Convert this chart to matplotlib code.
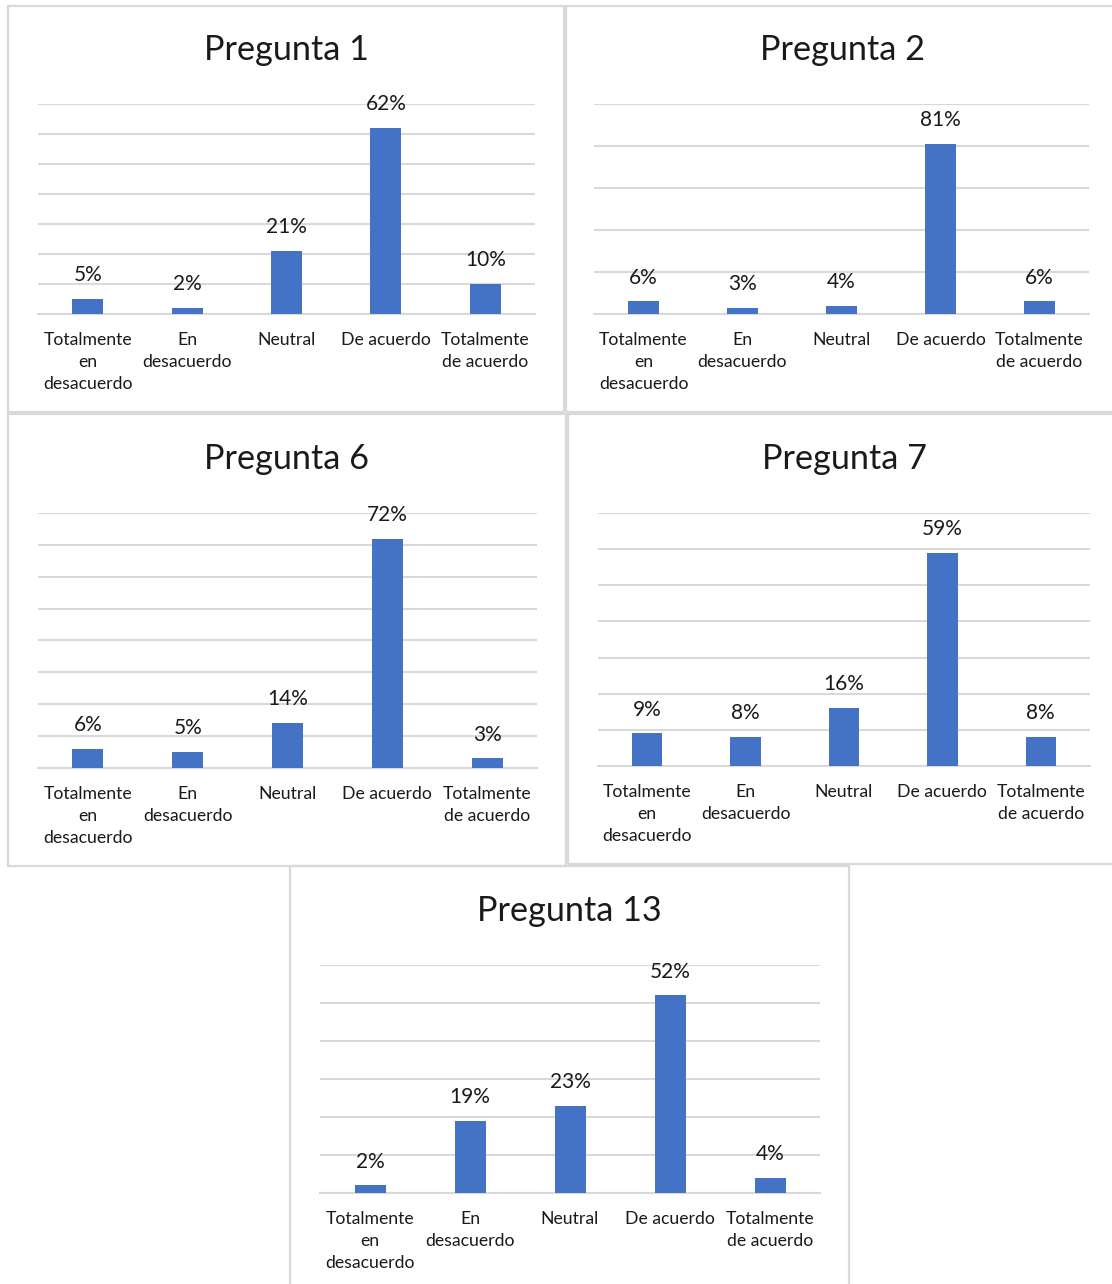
import matplotlib
matplotlib.use("Agg")
import matplotlib.pyplot as plt
from matplotlib.patches import Rectangle
from matplotlib.ticker import MultipleLocator

plt.rcParams['font.family'] = ['Lato', 'DejaVu Sans']

categories = ["Totalmente\nen\ndesacuerdo", "En\ndesacuerdo", "Neutral",
              "De acuerdo", "Totalmente\nde acuerdo"]

titles = ["Pregunta 1", "Pregunta 2", "Pregunta 6", "Pregunta 7", "Pregunta 13"]

pregunta_1 = [0.05, 0.02, 0.21, 0.62, 0.10]
pregunta_2 = [0.06, 0.03, 0.04, 0.81, 0.06]
pregunta_6 = [0.06, 0.05, 0.14, 0.72, 0.03]
pregunta_7 = [0.09, 0.08, 0.16, 0.59, 0.08]
pregunta_13 = [0.02, 0.19, 0.23, 0.52, 0.04]

series = [pregunta_1, pregunta_2, pregunta_6, pregunta_7, pregunta_13]
y_max = [0.7, 1.0, 0.8, 0.7, 0.6]
y_step = [0.1, 0.2, 0.1, 0.1, 0.1]

W, H = 1112, 1284
fig = plt.figure(figsize=(W / 100, H / 100), dpi=100)
fig.patch.set_facecolor("white")

# plot areas in pixels: left, right, top gridline, baseline
plot_px = [(38, 535, 104, 314), (594, 1089, 104, 314), (38, 537, 513, 768),
           (598, 1090, 513, 766), (320, 820, 965, 1193)]
# chart frames in pixels: left, top, right, bottom
frame_px = [(8, 6, 564, 412), (566, 6, 1116, 412), (8, 414, 566, 866),
            (568, 414, 1116, 864), (290, 866, 849, 1290)]
title_px = [(286, 50), (842, 50), (287, 459), (844, 459), (569, 911)]

BAR = "#4472C4"
GRID = "#d9d9d9"
TXT = "#1a1a1a"

for (l, t, r, b) in frame_px:
    fig.patches.append(Rectangle((l / W, 1 - b / H), (r - l) / W, (b - t) / H,
                                 transform=fig.transFigure, fill=False,
                                 edgecolor=GRID, linewidth=1.6))

for i in range(5):
    l, r, t, b = plot_px[i]
    ax = fig.add_axes([l / W, 1 - b / H, (r - l) / W, (b - t) / H])
    x = list(range(len(categories)))
    vals = series[i]
    ax.bar(x, vals, width=0.31, color=BAR, zorder=3)
    ax.set_xlim(-0.5, len(categories) - 0.5)
    ax.set_ylim(0, y_max[i])
    ax.yaxis.set_major_locator(MultipleLocator(y_step[i]))
    ax.grid(axis="y", color=GRID, linewidth=1.5, zorder=0)
    ax.set_axisbelow(True)
    for s in ("left", "right", "top"):
        ax.spines[s].set_visible(False)
    ax.spines["bottom"].set_color(GRID)
    ax.spines["bottom"].set_linewidth(1.5)
    ax.set_yticklabels([])
    ax.tick_params(axis="y", length=0)
    ax.tick_params(axis="x", length=0, pad=13)
    ax.set_xticks(x)
    ax.set_xticklabels(categories, fontsize=12.7, color=TXT, linespacing=1.45,
                       va="top")
    for xi, v in zip(x, vals):
        ax.annotate(f"{round(v * 100)}%", (xi, v), xytext=(0, 10),
                    textcoords="offset points", ha="center", va="bottom",
                    fontsize=15, color=TXT)
    ax.set_facecolor("none")
    tx, ty = title_px[i]
    fig.text(tx / W, 1 - ty / H, titles[i], ha="center", va="center",
             fontsize=24.7, color=TXT)

fig.savefig("out.png", dpi=100, facecolor="white")
